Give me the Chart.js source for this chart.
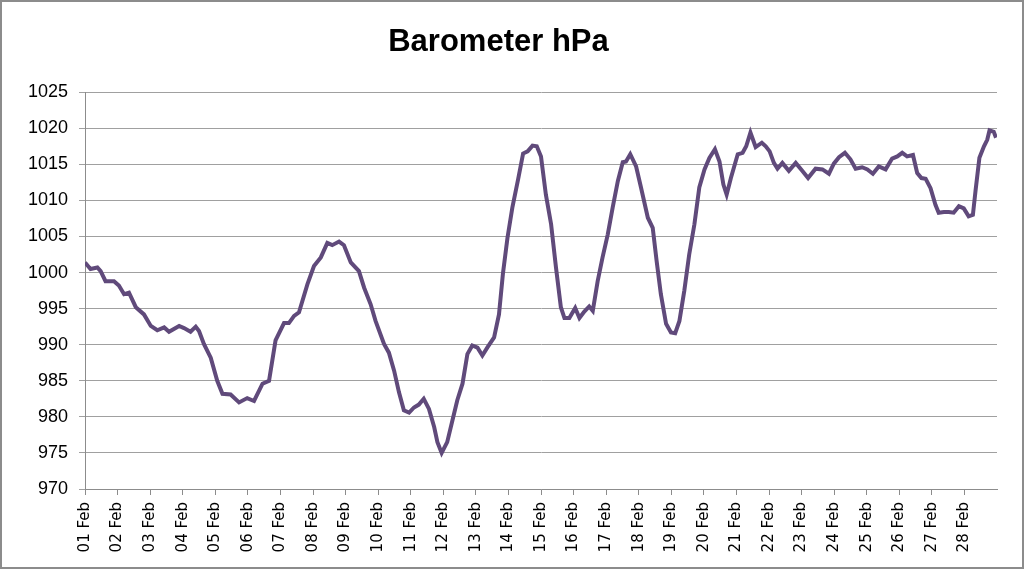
<!DOCTYPE html>
<html><head><meta charset="utf-8">
<script src="https://cdn.jsdelivr.net/npm/chart.js@4/dist/chart.umd.min.js"></script>
<style>html,body{margin:0;padding:0;background:#fff;}#wrap{width:1024px;height:569px;}</style>
</head><body><div id="wrap"><canvas id="c" width="1024" height="569"></canvas></div>
<script>
const chartTitle = 'Barometer hPa';
const dayLabels = ['01 Feb','02 Feb','03 Feb','04 Feb','05 Feb','06 Feb','07 Feb','08 Feb','09 Feb','10 Feb',
  '11 Feb','12 Feb','13 Feb','14 Feb','15 Feb','16 Feb','17 Feb','18 Feb','19 Feb','20 Feb',
  '21 Feb','22 Feb','23 Feb','24 Feb','25 Feb','26 Feb','27 Feb','28 Feb'];
const dayTickValues = [0,1,2,3,4,5,6,7,8,9,10,11,12,13,14,15,16,17,18,19,20,21,22,23,24,25,26,27];
const yTickValues = [970,975,980,985,990,995,1000,1005,1010,1015,1020,1025];
// time in days since 01 Feb 00:00
const dayOffsets = [0.0,0.17,0.38,0.48,0.63,0.89,1.04,1.2,1.35,1.56,1.81,2.02,2.22,2.43,2.58,2.89,3.04,3.24,3.4,3.5,
  3.65,3.86,4.06,4.22,4.47,4.73,4.98,5.19,5.45,5.65,5.85,6.11,6.26,6.42,6.57,6.83,7.03,7.24,7.44,7.59,
  7.8,7.95,8.16,8.41,8.57,8.77,8.92,9.18,9.33,9.49,9.64,9.79,9.95,10.1,10.25,10.4,10.56,10.72,10.82,10.95,
  11.12,11.28,11.43,11.59,11.74,11.89,12.05,12.2,12.35,12.56,12.71,12.83,12.97,13.12,13.3,13.45,13.59,13.74,13.87,14.0,
  14.15,14.31,14.46,14.61,14.72,14.87,15.05,15.18,15.33,15.48,15.59,15.74,15.89,16.05,16.2,16.36,16.51,16.61,16.74,16.92,
  17.07,17.28,17.43,17.55,17.68,17.84,17.99,18.12,18.25,18.4,18.55,18.71,18.86,19.02,19.17,19.34,19.48,19.6,19.7,19.83,
  20.04,20.19,20.3,20.43,20.59,20.78,20.9,21.02,21.15,21.26,21.41,21.61,21.82,22.02,22.2,22.43,22.64,22.84,22.99,23.15,
  23.33,23.5,23.66,23.86,24.02,24.19,24.37,24.58,24.78,24.94,25.09,25.24,25.42,25.55,25.68,25.81,25.96,26.11,26.21,26.37,
  26.52,26.67,26.83,26.98,27.13,27.26,27.34,27.46,27.6,27.7,27.77,27.9,27.97];
const pressure = [1001.4,1000.5,1000.7,1000.2,998.8,998.8,998.2,997.0,997.2,995.2,994.2,992.6,992.0,992.4,991.8,992.6,992.3,991.8,992.5,991.9,
  990.1,988.2,985.0,983.2,983.1,982.0,982.6,982.2,984.6,985.0,990.6,993.0,993.0,994.0,994.5,998.4,1000.9,1002.1,1004.1,1003.8,
  1004.3,1003.8,1001.4,1000.2,997.9,995.6,993.3,990.1,988.9,986.4,983.4,980.9,980.6,981.3,981.7,982.5,981.1,978.6,976.5,975.0,
  976.5,979.5,982.3,984.6,988.7,989.9,989.6,988.5,989.6,991.0,994.2,999.8,1004.8,1009.0,1013.0,1016.5,1016.8,1017.6,1017.5,1016.1,
  1010.8,1006.7,1000.7,995.2,993.7,993.7,995.1,993.7,994.6,995.3,994.7,998.8,1002.1,1005.3,1009.0,1012.7,1015.3,1015.4,1016.4,1014.7,
  1011.8,1007.6,1006.2,1001.6,997.0,992.9,991.7,991.6,993.3,997.5,1002.5,1006.7,1011.8,1014.3,1015.9,1017.1,1015.4,1012.2,1010.8,1013.1,
  1016.4,1016.6,1017.5,1019.4,1017.4,1018.0,1017.5,1016.8,1015.2,1014.4,1015.2,1014.1,1015.2,1014.1,1013.1,1014.4,1014.3,1013.7,1015.1,1016.0,
  1016.6,1015.7,1014.4,1014.6,1014.3,1013.7,1014.7,1014.3,1015.8,1016.1,1016.6,1016.1,1016.3,1013.8,1013.1,1013.0,1011.7,1009.4,1008.3,1008.4,
  1008.4,1008.3,1009.2,1008.9,1007.8,1008.0,1011.3,1015.9,1017.5,1018.4,1019.7,1019.5,1018.7];

const points = dayOffsets.map((d, i) => ({x: d, y: pressure[i]}));

const frame = {
  id: 'frame',
  afterDraw(chart) {
    const ctx = chart.ctx;
    ctx.save();
    ctx.strokeStyle = '#8c8c8c';
    ctx.lineWidth = 2;
    ctx.strokeRect(1, 1, chart.width - 2, chart.height - 2);
    ctx.restore();
  }
};

new Chart(document.getElementById('c'), {
  type: 'line',
  data: { datasets: [{
    label: chartTitle,
    data: points,
    borderColor: '#604A7B',
    borderWidth: 4,
    pointRadius: 0,
    tension: 0,
    fill: false
  }]},
  options: {
    responsive: false,
    animation: false,
    devicePixelRatio: 1,
    layout: { padding: { top: 0, right: 27, bottom: 0, left: 0 } },
    plugins: {
      legend: { display: false },
      tooltip: { enabled: false },
      title: {
        display: true, text: chartTitle, color: '#000',
        font: { family: 'Liberation Sans', size: 31, weight: 'bold' },
        padding: { top: 24, bottom: 31 }
      }
    },
    scales: {
      x: {
        type: 'linear', min: 0, max: 28,
        afterBuildTicks: s => { s.ticks = dayTickValues.map(v => ({ value: v })); },
        ticks: {
          autoSkip: false, minRotation: 90, maxRotation: 90, padding: 7, color: '#000',
          font: { family: 'DejaVu Sans', size: 15 },
          callback: (v, i) => dayLabels[i]
        },
        grid: { drawOnChartArea: false, drawTicks: true, tickLength: 6, color: '#8c8c8c' },
        border: { color: '#8c8c8c', width: 1 },
        afterFit: s => { s.height = 80; }
      },
      y: {
        min: 970, max: 1025,
        afterBuildTicks: s => { s.ticks = yTickValues.map(v => ({ value: v })); },
        ticks: { color: '#000', padding: 11, font: { family: 'Liberation Sans', size: 18 },
          callback: v => String(v) },
        grid: { color: '#a0a0a0', tickLength: 6 },
        border: { color: '#8c8c8c', width: 1 },
        afterFit: s => { s.width = 85; }
      }
    }
  },
  plugins: [frame]
});
</script>
</body></html>
